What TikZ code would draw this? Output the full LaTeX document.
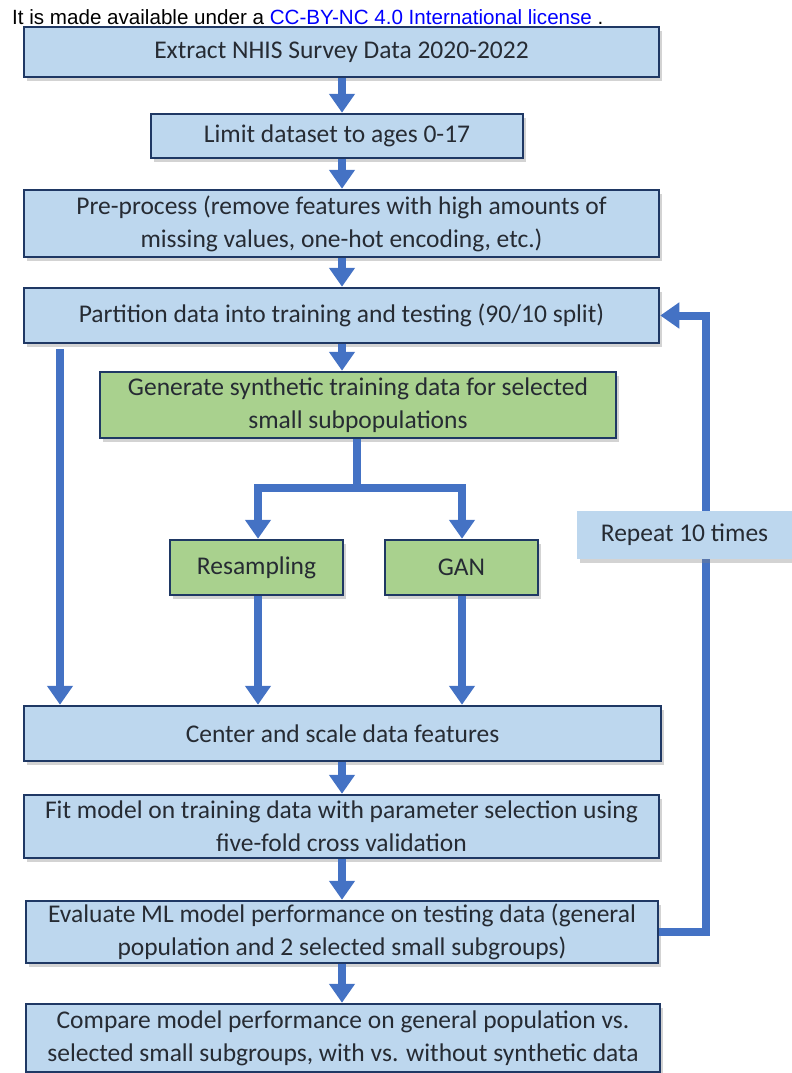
\documentclass[tikz,border=0pt]{standalone}
\usepackage{fontspec}
\setmainfont{Carlito}
\newfontfamily\hdrfont{Liberation Sans}
\usetikzlibrary{positioning, arrows.meta, shadows}

\definecolor{boxblue}{HTML}{BDD7EE}
\definecolor{boxgreen}{HTML}{A9D18E}
\definecolor{edgeblue}{HTML}{1F3864}
\definecolor{flowblue}{HTML}{4472C4}
\definecolor{txt}{HTML}{262B33}
\definecolor{linkblue}{HTML}{0000FF}

\tikzset{
  box/.style={draw=edgeblue, line width=2.5pt, fill=boxblue, text=txt,
    align=center, inner sep=0pt, font=\fontsize{25.5}{33}\selectfont,
    drop shadow={shadow xshift=3pt, shadow yshift=-4pt, opacity=0.35}},
  gbox/.style={box, fill=boxgreen},
  note/.style={fill=boxblue, text=txt, inner sep=0pt, font=\fontsize{25.5}{33}\selectfont,
    drop shadow={shadow xshift=3pt, shadow yshift=-4pt, opacity=0.35}},
  bar/.style={draw=flowblue, line width=8pt},
  flow/.style={bar, -{Triangle[width=25pt,length=19pt]}}
}

\begin{document}
\begin{tikzpicture}[x=1pt,y=-1pt]
        \useasboundingbox (0,0) rectangle (792,1073);

        \node[anchor=west, inner sep=0pt, font=\hdrfont\fontsize{20.6}{25}\selectfont] (hdr) at (12,17)
          {It is made available under a \textcolor{linkblue}{CC-BY-NC 4.0 International license} .};

        % main column
        \node[box, minimum width=635, minimum height=50] (extract) at (341.5,52) {Extract NHIS Survey Data 2020-2022};
        \node[box, minimum width=372, minimum height=44] (limit) at (337,136) {Limit dataset to ages 0-17};
        \node[box, minimum width=635, minimum height=67] (prep) at (341.5,223.5)
          {Pre-process (remove features with high amounts of\\ missing values, one-hot encoding, etc.)};
        \node[box, minimum width=635, minimum height=55] (part) at (341.5,315.5)
          {Partition data into training and testing (90/10 split)};
        \node[gbox, minimum width=516, minimum height=66] (gen) at (358,405)
          {Generate synthetic training data for selected\\ small subpopulations};
        \node[gbox, minimum width=173, minimum height=55] (res) at (256.5,567.5) {Resampling};
        \node[gbox, minimum width=153, minimum height=55] (gan) at (461.5,567.5) {GAN};
        \node[box, minimum width=637, minimum height=55] (center) at (342.5,733.5)
          {Center and scale data features};
        \node[box, minimum width=635, minimum height=63] (fit) at (341.5,826.5)
          {Fit model on training data with parameter selection using\\ five-fold cross validation};
        \node[box, minimum width=632, minimum height=62] (eval) at (342,932)
          {Evaluate ML model performance on testing data (general\\ population and 2 selected small subgroups)};
        \node[box, minimum width=634, minimum height=68] (comp) at (343,1038)
          {Compare model performance on general population vs.\\ selected small subgroups, with vs. without synthetic data};

        \coordinate (midx) at (342,0);
        \coordinate (leftx) at (60,0);
        \coordinate (splitx) at (357,0);
        \coordinate (split) at (357,488);
        \coordinate (loopx) at (706,0);

        \draw[flow] (extract.south -| midx) -- (limit.north -| midx);
        \draw[flow] (limit.south -| midx) -- (prep.north -| midx);
        \draw[flow] (prep.south -| midx) -- (part.north -| midx);
        \draw[flow] (part.south -| midx) -- (gen.north -| midx);
        \draw[flow, shorten <=5pt] (part.south -| leftx) -- (center.north -| leftx);

        \draw[bar] (gen.south -| splitx) -- (split);
        \draw[flow] (split) -| (res.north -| 258,0);
        \draw[flow] (split) -| (gan.north -| 462,0);
        \draw[flow] (res.south -| 258,0) -- (center.north -| 258,0);
        \draw[flow] (gan.south -| 462,0) -- (center.north -| 462,0);

        \draw[flow] (center.south -| midx) -- (fit.north -| midx);
        \draw[flow] (fit.south -| midx) -- (eval.north -| midx);
        \draw[flow] (eval.south -| midx) -- (comp.north -| midx);

        % repeat loop
        \draw[flow] (eval.east) -- (eval.east -| loopx) -- (loopx |- part.east) -- (part.east);
        \node[note, minimum width=215, minimum height=48] (rep) at (684.5,535) {Repeat 10 times};
    \end{tikzpicture}
\end{document}
